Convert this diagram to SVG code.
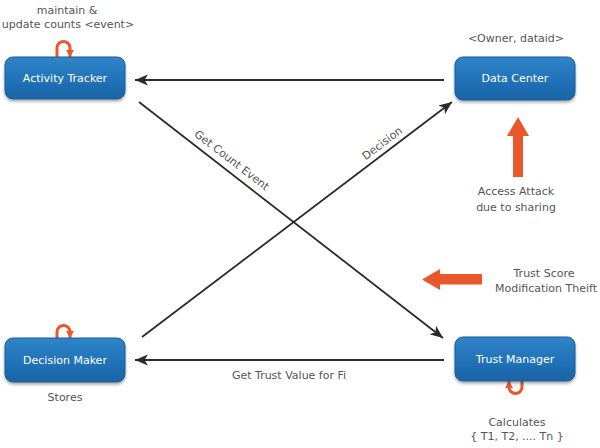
<svg xmlns="http://www.w3.org/2000/svg" width="600" height="448" viewBox="0 0 600 448">
<defs>
<linearGradient id="blue" x1="0" y1="0" x2="0" y2="1">
<stop offset="0" stop-color="#3184c8"/>
<stop offset="0.5" stop-color="#2274b9"/>
<stop offset="1" stop-color="#1a63a6"/>
</linearGradient>
<filter id="sh" x="-10%" y="-20%" width="120%" height="150%">
<feGaussianBlur in="SourceAlpha" stdDeviation="1.5"/>
<feOffset dx="0" dy="2" result="b"/>
<feComponentTransfer><feFuncA type="linear" slope="0.35"/></feComponentTransfer>
<feMerge><feMergeNode/><feMergeNode in="SourceGraphic"/></feMerge>
</filter>
<marker id="ah" markerUnits="userSpaceOnUse" markerWidth="14" markerHeight="12" refX="13" refY="6" orient="auto">
<path d="M0,0.5 L13,6 L0,11.5 L3.5,6 z" fill="#2b2b2b"/>
</marker>
<marker id="oh" markerUnits="userSpaceOnUse" markerWidth="10" markerHeight="10" refX="7" refY="4" orient="auto">
<path d="M0,0 L7,4 L0,8 z" fill="#e8582b"/>
</marker>
</defs>
<style>
.box{fill:url(#blue);stroke:#1a5d9c;stroke-width:1;filter:url(#sh)}
.bl{font-family:"DejaVu Sans",Verdana,sans-serif;font-size:11px;fill:#ffffff;text-anchor:middle}
.t{font-family:"DejaVu Sans",Verdana,sans-serif;font-size:11px;fill:#555555;text-anchor:middle}
.e{stroke:#2b2b2b;stroke-width:1.8;fill:none;marker-end:url(#ah)}
.loop{stroke:#e8582b;stroke-width:3;fill:none;marker-end:url(#oh)}
.oa{fill:#e8582b}
</style>
<rect width="600" height="448" fill="#ffffff"/>

<g id="connectors">
<line class="e" x1="444" y1="80" x2="135" y2="80"/>
<line class="e" x1="444" y1="360" x2="135" y2="360"/>
<line class="e" x1="139" y1="102" x2="443" y2="338"/>
<line class="e" x1="142" y1="337" x2="452" y2="102"/>
<text class="t" transform="translate(232,160) rotate(37.6)" x="0" y="4">Get Count Event</text>
<text class="t" transform="translate(382,143) rotate(-37.3)" x="0" y="4">Decision</text>
<text class="t" x="289" y="379">Get Trust Value for Fi</text>
</g>

<g id="activity-tracker">
<text class="t" x="67" y="14">maintain &amp;</text>
<text class="t" x="68" y="28">update counts &lt;event&gt;</text>
<path class="loop" d="M57,57 V48 A6.5,6.5 0 0 1 70,48 V57"/>
<rect class="box" x="5" y="57" width="120" height="42" rx="8"/>
<text class="bl" x="65" y="82">Activity Tracker</text>
</g>

<g id="data-center">
<text class="t" x="516" y="42">&lt;Owner, dataid&gt;</text>
<rect class="box" x="455" y="57" width="120" height="43" rx="8"/>
<text class="bl" x="515" y="82">Data Center</text>
</g>

<g id="decision-maker">
<path class="loop" d="M57,338 V332 A6.5,6.5 0 0 1 70,332 V338"/>
<rect class="box" x="5" y="338" width="120" height="44" rx="8"/>
<text class="bl" x="65" y="364">Decision Maker</text>
<text class="t" x="65" y="401">Stores</text>
</g>

<g id="trust-manager">
<path class="loop" d="M522,381 V387 A6.5,6.5 0 0 1 509,387 V381"/>
<rect class="box" x="455" y="337" width="120" height="44" rx="8"/>
<text class="bl" x="515" y="363">Trust Manager</text>
<text class="t" x="517" y="426">Calculates</text>
<text class="t" x="517" y="440">{ T1, T2, .... Tn }</text>
</g>

<g id="access-attack">
<path class="oa" d="M513,177 V136 H507 L518,117 L529,136 H523 V177 z"/>
<text class="t" x="516" y="195">Access Attack</text>
<text class="t" x="516" y="211">due to sharing</text>
</g>

<g id="trust-score-attack">
<path class="oa" d="M482,274 H440 V269 L422,279.5 L440,290 V284.5 H482 z"/>
<text class="t" x="544" y="277">Trust Score</text>
<text class="t" x="546" y="292">Modification Theift</text>
</g>
</svg>
